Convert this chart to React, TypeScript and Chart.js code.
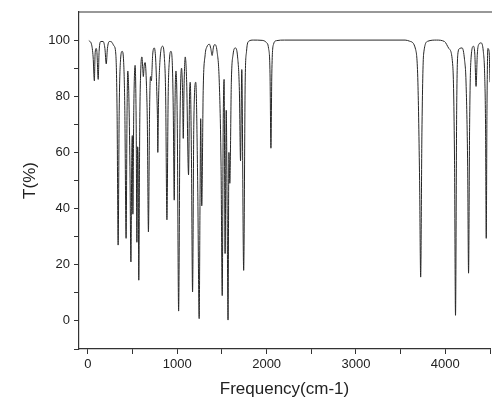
import React, { useEffect, useRef } from "react";
import { Chart, registerables } from "chart.js";

Chart.register(...registerables);

const frequency: number[] = [
  10, 40, 58, 72, 80, 92, 100, 115, 125, 145, 170, 190, 205, 218, 240, 262, 290, 312, 326, 338,
  350, 365, 383, 400, 413, 427, 438, 446, 458, 470, 481, 491, 497, 503, 513, 528, 540, 548, 556, 562,
  569, 580, 592, 605, 613, 620, 630, 640, 655, 665, 677, 690, 700, 710, 725, 743, 760, 772, 778, 782,
  790, 805, 836, 855, 870, 884, 898, 912, 929, 945, 955, 966, 975, 985, 1000, 1015, 1030, 1048, 1060, 1067,
  1075, 1089, 1105, 1126, 1137, 1145, 1158, 1171, 1185, 1207, 1228, 1245, 1255, 1262, 1274, 1290, 1312, 1330, 1360, 1375,
  1390, 1405, 1420, 1445, 1470, 1490, 1503, 1514, 1524, 1535, 1548, 1558, 1568, 1578, 1588, 1605, 1625, 1650, 1675, 1695,
  1708, 1722, 1743, 1760, 1775, 1800, 1850, 1950, 1995, 2022, 2038, 2048, 2058, 2077, 2110, 2200, 3550, 3601, 3668, 3693,
  3712, 3724, 3738, 3757, 3805, 3900, 3990, 4040, 4084, 4103, 4114, 4127, 4140, 4160, 4188, 4215, 4232, 4250, 4260, 4272,
  4285, 4315, 4330, 4344, 4358, 4375, 4400, 4425, 4440, 4450, 4458, 4466, 4476, 4490, 4500,
];

// Transmittance T(%) at each frequency above
const transmittance: number[] = [
  99.8, 98.5, 94, 85.5, 95, 97, 96, 86, 96, 99.5, 99.5, 97, 91.5, 97, 99.5, 99.4, 98, 95, 75, 27,
  75, 93, 96, 92, 75, 29.4, 75, 89, 80, 55, 21, 60, 66, 38, 75, 91, 70, 28, 62, 58,
  14.5, 70, 90, 94, 90, 87, 91, 92, 84, 70, 31.7, 75, 87, 85.5, 95, 97.2, 92, 80, 72, 60,
  78, 92, 97.8, 94, 80, 36, 80, 93, 96, 91, 75, 43, 78, 89, 70, 3.5, 70, 90, 80, 65,
  82, 94, 85, 52, 80, 85, 60, 10.3, 70, 85, 50, 0.8, 45, 72, 41, 82, 94.8, 97.5, 98.5, 97,
  94.5, 97.5, 98.4, 96, 85, 55, 9, 70, 86, 24, 75, 40, 0.3, 60, 49, 85, 95, 97.2, 94, 82,
  57, 89.5, 18, 85, 96, 99.6, 100, 99.9, 99.2, 97, 88, 61.5, 88, 98.5, 99.8, 100, 100, 99.6, 96.6, 85,
  50, 15.6, 67, 95, 99.6, 100, 99.5, 97, 90.6, 57, 2, 75, 95, 97, 97.2, 93, 84.7, 55, 17, 70,
  92, 97.8, 95, 83.5, 95, 98.5, 99, 96, 88, 70, 29.4, 75, 97, 96, 85,
];

// Axis ticks
const xTickValues: number[] = [0, 500, 1000, 1500, 2000, 2500, 3000, 3500, 4000, 4500];
const xTickLabels: string[] = ["0", "", "1000", "", "2000", "", "3000", "", "4000", ""];
const yTickValues: number[] = [-10, 0, 10, 20, 30, 40, 50, 60, 70, 80, 90, 100];
const yTickLabels: string[] = ["", "0", "", "20", "", "40", "", "60", "", "80", "", "100"];

const FONT = "'Liberation Sans', Arial, sans-serif";
const AXIS = "#333333";

const topBorder = {
  id: "topBorder",
  afterDraw(chart: any) {
    const { ctx, chartArea } = chart;
    ctx.save();
    ctx.strokeStyle = AXIS;
    ctx.lineWidth = 1.2;
    ctx.beginPath();
    ctx.moveTo(chartArea.left, chartArea.top);
    ctx.lineTo(chartArea.right + 2, chartArea.top);
    ctx.stroke();
    ctx.restore();
  },
};

export default function App() {
  const ref = useRef<HTMLCanvasElement | null>(null);

  useEffect(() => {
    if (!ref.current) return;
    const points = frequency.map((x, i) => ({ x, y: transmittance[i] }));
    const chart = new Chart(ref.current, {
      type: "line",
      data: {
        datasets: [
          {
            data: points,
            borderColor: "#262626",
            borderWidth: 1,
            pointRadius: 0,
            cubicInterpolationMode: "monotone",
            fill: false,
          },
        ],
      },
      plugins: [topBorder],
      options: {
        animation: false,
        responsive: false,
        maintainAspectRatio: false,
        devicePixelRatio: 1,
        layout: { padding: { top: 12, right: 2, left: 0, bottom: 0 } },
        plugins: { legend: { display: false }, tooltip: { enabled: false } },
        scales: {
          x: {
            type: "linear",
            min: -100,
            max: 4500,
            afterFit: (s: any) => {
              s.height = 52;
            },
            afterBuildTicks: (s: any) => {
              s.ticks = xTickValues.map((v) => ({ value: v }));
            },
            grid: { display: true, drawOnChartArea: false, drawTicks: true, tickLength: 5, color: AXIS, lineWidth: 1 },
            border: { display: true, color: AXIS, width: 1.2 },
            ticks: {
              autoSkip: false,
              maxRotation: 0,
              padding: 3,
              color: "#222",
              font: { family: FONT, size: 13 },
              callback: (_v: any, i: number) => xTickLabels[i],
            },
            title: {
              display: true,
              text: "Frequency(cm-1)",
              color: "#222",
              font: { family: FONT, size: 17 },
              padding: { top: 0, bottom: 1 },
            },
          },
          y: {
            type: "linear",
            min: -10,
            max: 110,
            afterFit: (s: any) => {
              s.width = 79;
            },
            afterBuildTicks: (s: any) => {
              s.ticks = yTickValues.map((v) => ({ value: v }));
            },
            grid: { display: true, drawOnChartArea: false, drawTicks: true, tickLength: 5, color: AXIS, lineWidth: 1 },
            border: { display: true, color: AXIS, width: 1.2 },
            ticks: {
              autoSkip: false,
              padding: 4,
              color: "#222",
              font: { family: FONT, size: 13 },
              callback: (_v: any, i: number) => yTickLabels[i],
            },
            title: {
              display: true,
              text: "T(%)",
              color: "#222",
              font: { family: FONT, size: 17 },
              padding: { top: 20, bottom: 0 },
            },
          },
        },
      },
    });
    return () => chart.destroy();
  }, []);

  return (
    <div style={{ position: "absolute", left: 0, top: 0, width: 493, height: 401, background: "#fff" }}>
      <canvas ref={ref} width={493} height={401} style={{ width: 493, height: 401, display: "block" }} />
    </div>
  );
}
